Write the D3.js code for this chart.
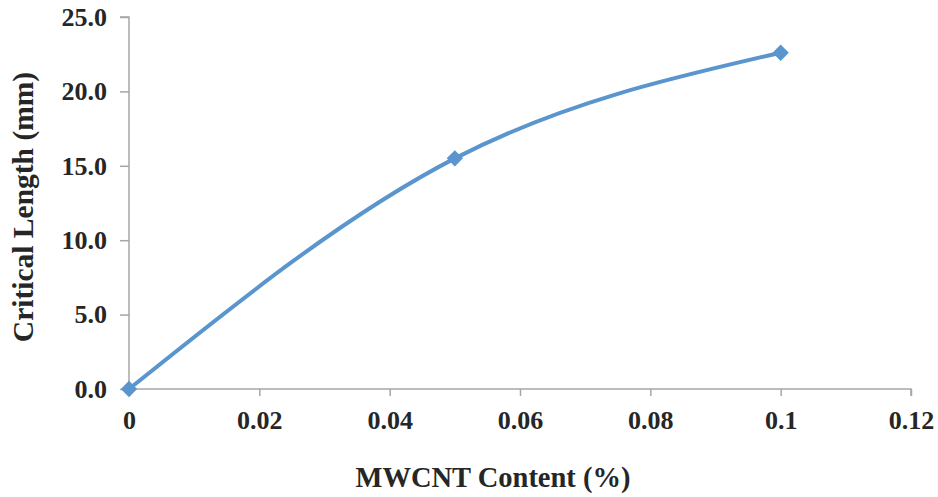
<!DOCTYPE html>
<html><head><meta charset="utf-8">
<script src="https://cdn.jsdelivr.net/npm/d3@7"></script>
<style>body{margin:0;background:#fff}svg text{font-family:"Liberation Serif","Times New Roman",serif;font-weight:bold;fill:#262626}</style>
</head><body><svg id="c" width="938" height="497"></svg>
<script>
const xValues = [0, 0.05, 0.1];
const yValues = [0, 15.5, 22.6];
const xTicks = [0, 0.02, 0.04, 0.06, 0.08, 0.1, 0.12];
const xTickLabels = ["0", "0.02", "0.04", "0.06", "0.08", "0.1", "0.12"];
const yTicks = [0, 5, 10, 15, 20, 25];
const yTickLabels = ["0.0", "5.0", "10.0", "15.0", "20.0", "25.0"];

const svg = d3.select("#c");
const x = d3.scaleLinear().domain([0, 0.12]).range([129, 911]);
const y = d3.scaleLinear().domain([0, 25]).range([389, 17]);
const axisColor = "#a6a6a6";

const xa = svg.append("g").attr("transform", "translate(0,389)")
  .call(d3.axisBottom(x).tickValues(xTicks).tickFormat((d,i)=>xTickLabels[i]).tickSize(7).tickSizeOuter(7).tickPadding(15));
const ya = svg.append("g").attr("transform", "translate(129,0)")
  .call(d3.axisLeft(y).tickValues(yTicks).tickFormat((d,i)=>yTickLabels[i]).tickSize(9).tickSizeOuter(0).tickPadding(13));
[xa, ya].forEach(a => {
  a.selectAll("path,line").attr("stroke", axisColor).attr("stroke-width", 1.5);
  a.selectAll("text").style("font-size", "26px").attr("fill", "#262626");
});
ya.select(".domain").attr("d", "M-9,17H0V389");
xa.select(".domain").attr("d", "M129,0H911V7");

const data = xValues.map((v,i)=>[v, yValues[i]]);
svg.append("path").datum(data)
  .attr("fill", "none").attr("stroke", "#5b95cd").attr("stroke-width", 4)
  .attr("d", d3.line().x(d=>x(d[0])).y(d=>y(d[1])).curve(d3.curveNatural));

svg.selectAll(".m").data(data).enter().append("path")
  .attr("transform", d=>`translate(${x(d[0])},${y(d[1])})`)
  .attr("d", d3.symbol().type(d3.symbolDiamond2).size(170))
  .attr("fill", "#5b95cd");

svg.append("text").attr("x", 493).attr("y", 487).attr("text-anchor", "middle")
  .style("font-size", "28.5px").text("MWCNT Content (%)");
svg.append("text").attr("transform", "translate(33,207) rotate(-90)").attr("text-anchor", "middle")
  .style("font-size", "29.5px").text("Critical Length (mm)");
</script></body></html>
